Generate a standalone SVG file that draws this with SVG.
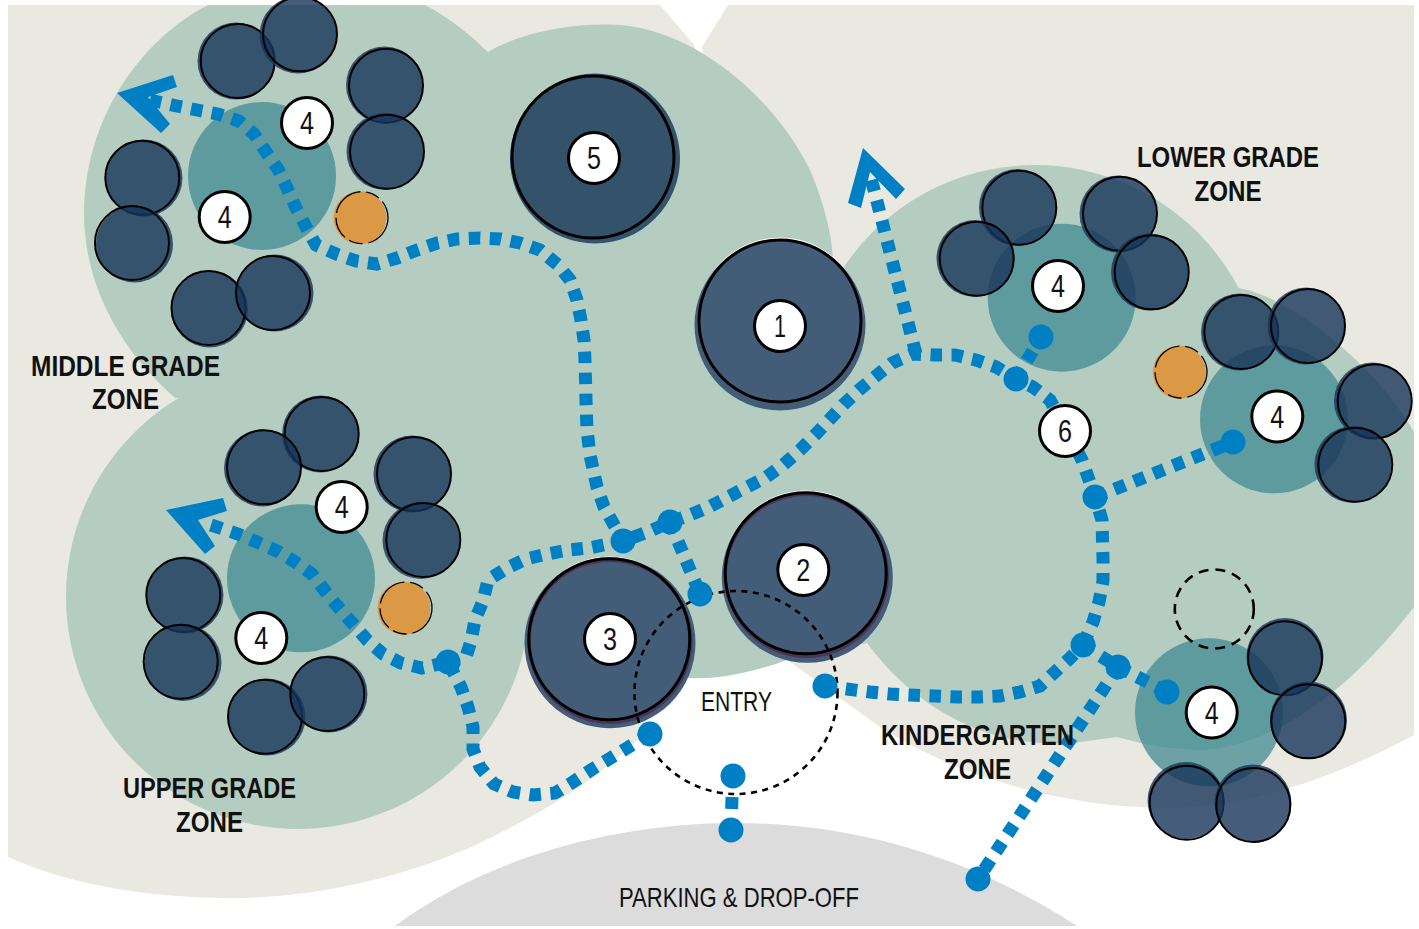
<svg xmlns="http://www.w3.org/2000/svg" width="1419" height="929" viewBox="0 0 1419 929">
<style>
.beige{fill:#e9e9e2}.green{fill:#b5cdc1}.teal{fill:#418991;fill-opacity:.75}
.df{fill:#163459;fill-opacity:.8}.ol{fill:none;stroke:#000;stroke-width:2}
.big{fill:#435d79}.bol{fill:none;stroke:#000;stroke-width:3}.halo{fill:#fff}.purple{fill:none;stroke:#4b3556;stroke-width:3}
.org{fill:#dc9945}.orgd{fill:none;stroke:#000;stroke-width:1.3;stroke-dasharray:34 6 14 5 22 5}
.bub{fill:#fff;stroke:#000;stroke-width:3}
.num{font-family:"Liberation Sans Narrow","Liberation Sans",sans-serif;font-size:31px;fill:#111;text-anchor:middle}
.lab{font-family:"Liberation Sans Narrow","Liberation Sans",sans-serif;font-size:29px;font-weight:bold;fill:#111;text-anchor:middle}
.reg{font-family:"Liberation Sans Narrow","Liberation Sans",sans-serif;font-size:28px;fill:#111;text-anchor:middle}
.walk{fill:none;stroke:#0080c4;stroke-width:13;stroke-dasharray:11.5 9.5}
.dot{fill:#0080c4}.chev{fill:#0080c4}
.dash{fill:none;stroke:#000;stroke-width:2.6;stroke-dasharray:6 5.5}
</style>
<defs><clipPath id="frame"><rect x="8" y="5" width="1406" height="921"/></clipPath></defs>
<g id="ground" clip-path="url(#frame)">
<path class="beige" d="M8 5H660L695 46L660 690L640 738C600 775 560 803 500 833C430 870 330 898 230 898C150 898 70 885 8 857Z"/>
<path class="beige" d="M728 5H1414V735C1340 775 1250 808 1170 808C1090 808 980 790 880 727L790 662L702 47Z"/>
<path fill="#dcdcdc" d="M395 926C490 855 620 823 735 823C860 823 975 860 1077 926Z"/>
<path class="green" d="M84 213C84 120 140 40 208 5H425C450 18 470 35 488 52L420 400L175 398C120 350 84 285 84 213Z"/>
<circle class="green" cx="298" cy="597" r="232"/>
<path class="green" d="M488 52C520 33 570 22 620 25C690 30 770 90 810 170C825 205 833 240 833 262L867 643L787 660C760 670 720 680 690 678L600 680L530 640L300 420L300 200Z"/>
<circle class="green" cx="1035" cy="395" r="230"/>
<path class="green" d="M1238 288C1290 295 1380 370 1414 432V607C1365 670 1295 740 1207 750C1175 750 1145 745 1117 737L1080 742C1000 752 920 715 867 643L840 400Z"/>
</g>
<g id="zone-middle-grade">
<circle class="teal" cx="262" cy="176" r="74"/>
<circle class="df" cx="236" cy="61" r="38.5"/><circle class="ol" cx="237.7" cy="61" r="37"/>
<circle class="df" cx="298" cy="35" r="38.5"/><circle class="ol" cx="300" cy="34.3" r="37"/>
<circle class="df" cx="384.5" cy="85" r="38.5"/><circle class="ol" cx="386" cy="85.7" r="37"/>
<circle class="df" cx="385" cy="151.5" r="38.5"/><circle class="ol" cx="387" cy="151.7" r="37"/>
<circle class="df" cx="144" cy="178" r="38.5"/><circle class="ol" cx="142.3" cy="177.7" r="37"/>
<circle class="df" cx="134.5" cy="244" r="38.5"/><circle class="ol" cx="132" cy="243" r="37"/>
<circle class="df" cx="209.5" cy="309" r="38.5"/><circle class="ol" cx="208.5" cy="308" r="37"/>
<circle class="df" cx="275" cy="293" r="38.5"/><circle class="ol" cx="273" cy="293" r="37"/>
<circle class="org" cx="360" cy="217.7" r="26.5"/><circle class="orgd" cx="362" cy="217.7" r="26"/>
</g>
<g id="zone-upper-grade">
<circle class="teal" cx="301" cy="578.3" r="74"/>
<circle class="df" cx="320.5" cy="434" r="38.5"/><circle class="ol" cx="321.7" cy="434" r="37"/>
<circle class="df" cx="262.5" cy="468" r="38.5"/><circle class="ol" cx="264" cy="467.3" r="37"/>
<circle class="df" cx="412" cy="474" r="38.5"/><circle class="ol" cx="414" cy="474" r="37"/>
<circle class="df" cx="421" cy="540.5" r="38.5"/><circle class="ol" cx="423.3" cy="540" r="37"/>
<circle class="df" cx="185" cy="595" r="38.5"/><circle class="ol" cx="183.3" cy="595" r="37"/>
<circle class="df" cx="183" cy="662.5" r="38.5"/><circle class="ol" cx="180.7" cy="661.7" r="37"/>
<circle class="df" cx="267" cy="717" r="38.5"/><circle class="ol" cx="265" cy="716.7" r="37"/>
<circle class="df" cx="329" cy="694" r="38.5"/><circle class="ol" cx="327.3" cy="694" r="37"/>
<circle class="org" cx="404" cy="608.3" r="26.5"/><circle class="orgd" cx="406" cy="608" r="26"/>
</g>
<g id="zone-lower-grade">
<circle class="teal" cx="1061.7" cy="297.7" r="74"/>
<circle class="df" cx="1017.5" cy="207.5" r="38.5"/><circle class="ol" cx="1019.3" cy="207.7" r="37"/>
<circle class="df" cx="975" cy="258.5" r="38.5"/><circle class="ol" cx="976.7" cy="258.7" r="37"/>
<circle class="df" cx="1118" cy="214" r="38.5"/><circle class="ol" cx="1120" cy="213.7" r="37"/>
<circle class="df" cx="1149.5" cy="272" r="38.5"/><circle class="ol" cx="1151.7" cy="272.3" r="37"/>
<circle class="teal" cx="1274" cy="419.3" r="74"/>
<circle class="df" cx="1239.5" cy="332" r="38.5"/><circle class="ol" cx="1241.3" cy="332" r="37"/>
<circle class="df" cx="1306" cy="326" r="38.5"/><circle class="ol" cx="1308" cy="326" r="37"/>
<circle class="df" cx="1372.5" cy="401" r="38.5"/><circle class="ol" cx="1374.7" cy="401.3" r="37"/>
<circle class="df" cx="1353" cy="464.5" r="38.5"/><circle class="ol" cx="1355.3" cy="464.7" r="37"/>
<circle class="org" cx="1179.3" cy="372.3" r="26.5"/><circle class="orgd" cx="1181" cy="372" r="26"/>
</g>
<g id="zone-kindergarten">
<circle class="teal" cx="1209" cy="712.3" r="74"/>
<circle class="df" cx="1285" cy="656.5" r="38.5"/><circle class="ol" cx="1285" cy="658.3" r="37"/>
<circle class="df" cx="1308.5" cy="720" r="38.5"/><circle class="ol" cx="1308.3" cy="721.3" r="37"/>
<circle class="df" cx="1186" cy="800.5" r="38.5"/><circle class="ol" cx="1186.7" cy="802.7" r="37"/>
<circle class="df" cx="1253" cy="803" r="38.5"/><circle class="ol" cx="1253.3" cy="805" r="37"/>
<circle class="dash" cx="1214.3" cy="609" r="39.5" style="stroke-dasharray:10 7"/>
</g>
<g id="node-5"><circle cx="595" cy="158.5" r="85" fill="#35526b"/><circle class="bol" cx="593" cy="157" r="81"/></g>
<g id="node-1"><circle class="halo" cx="780" cy="320" r="82.5"/><circle class="big" cx="780" cy="325" r="85.5"/><circle class="bol" cx="780" cy="321" r="81"/></g>
<g id="node-2"><circle class="halo" cx="806" cy="573" r="82.5"/><circle class="big" cx="807.3" cy="577.3" r="85.5"/><circle class="purple" cx="806.5" cy="575.5" r="81"/><circle class="bol" cx="805.7" cy="573.3" r="80.5"/></g>
<g id="node-3"><circle class="halo" cx="609.5" cy="639" r="82.5"/><circle class="big" cx="610" cy="642.7" r="85.5"/><circle class="purple" cx="610" cy="641.5" r="81"/><circle class="bol" cx="609.3" cy="639.3" r="80.5"/></g>
<g id="connectors">
<path class="walk" d="M150 100L177 106L197 110L218 114L239 121L254 134L266 152L278 169L287 188L296 208L306 227L316 245L336 254L356 261L377 264L397 258L417 250L437 243L457 239L480 238L500 239L520 243L540 250L558 265L570 280L577 300L581 320L584 340L585 360L586 400L587 430L590 455L597 487L604 507L623 541"/>
<path class="walk" d="M211 525L238 534L257 542L277 551L295 562L312 574L325 591L339 608L353 624L367 640L383 654L401 663L422 668L448 662"/>
<path class="walk" d="M448 662L466 657L471 641L475 620L483 601L488 580L507 568L526 559L547 554L568 550L589 548L623 541L650 531L670 522L690 515L709 507L728 497L747 487L765 478L783 465L800 450L817 433L844 404L859 390L876 376L892 363L913 354L934 355L955 355L976 360L996 367L1016 379L1033 387L1050 400L1082 460L1095 497L1102 520L1103 559L1103 581L1099 602L1093 622L1083 645"/>
<path class="walk" d="M825 686L847 689L870 692L890 694L910 695L935 696L958 697L980 697L1000 696L1020 692L1040 686L1055 672L1068 660L1083 645"/>
<path class="walk" d="M1118 667L978 879"/>
<path class="walk" d="M1083 645L1118 667L1167 692"/>
<path class="walk" d="M1095 497L1233 442"/>
<path class="walk" d="M1016 379L1041 337"/>
<path class="walk" d="M871.5 180L916 354"/>
<path class="walk" d="M670 522L700 594"/>
<path class="walk" d="M650 734L627 748L609 759L591 770L573 782L555 793L533 795L513 792L494 784L480 767L473 749L473 727L468 707L461 687L448 662"/>
<path class="walk" style="stroke-dasharray:0 21 12 30" d="M732.7 776L731 830"/>
<polygon class="chev" points="117,93 173,75 177,87 148,97 170,124 161,133"/>
<polygon class="chev" points="166,510 223,498 227,511 198,520 215,546 205,554"/>
<polygon class="chev" points="863,148 905,189 896,199 870,172 861,208 848,203"/>
<circle class="dash" cx="736" cy="692.5" r="101.5"/>
<circle class="dot" cx="623" cy="541" r="12.5"/><circle class="dot" cx="670" cy="522" r="12.5"/><circle class="dot" cx="700" cy="594" r="12.5"/>
<circle class="dot" cx="1016" cy="379" r="12.5"/><circle class="dot" cx="1041" cy="337" r="12.5"/><circle class="dot" cx="1095" cy="497" r="12.5"/>
<circle class="dot" cx="1233" cy="442" r="12.5"/><circle class="dot" cx="1083" cy="645" r="12.5"/><circle class="dot" cx="1118" cy="667" r="12.5"/>
<circle class="dot" cx="1167" cy="692" r="12.5"/><circle class="dot" cx="825" cy="686" r="12.5"/><circle class="dot" cx="650" cy="734" r="12.5"/>
<circle class="dot" cx="733" cy="776" r="12.5"/><circle class="dot" cx="731" cy="830" r="12.5"/><circle class="dot" cx="978" cy="879" r="12.5"/><circle class="dot" cx="448" cy="662" r="12.5"/>
</g>
<g id="badges">
<g id="badge-5"><circle class="bub" cx="594" cy="158" r="25.5"/><text class="num" x="594" y="169" textLength="14" lengthAdjust="spacingAndGlyphs">5</text></g>
<g id="badge-1"><circle class="bub" cx="780" cy="326" r="25.5"/><text class="num" x="780" y="337" textLength="12" lengthAdjust="spacingAndGlyphs">1</text></g>
<g id="badge-2"><circle class="bub" cx="803.3" cy="570" r="25.5"/><text class="num" x="803.3" y="581" textLength="14" lengthAdjust="spacingAndGlyphs">2</text></g>
<g id="badge-3"><circle class="bub" cx="610" cy="639" r="25.5"/><text class="num" x="610" y="650" textLength="14" lengthAdjust="spacingAndGlyphs">3</text></g>
<g id="badge-6"><circle class="bub" cx="1065" cy="431" r="25.5"/><text class="num" x="1065" y="442" textLength="14" lengthAdjust="spacingAndGlyphs">6</text></g>
<g id="badge-4a"><circle class="bub" cx="307" cy="123" r="25.5"/><text class="num" x="307" y="134" textLength="14" lengthAdjust="spacingAndGlyphs">4</text></g>
<g id="badge-4b"><circle class="bub" cx="224.7" cy="217" r="25.5"/><text class="num" x="224.7" y="228" textLength="14" lengthAdjust="spacingAndGlyphs">4</text></g>
<g id="badge-4c"><circle class="bub" cx="341.7" cy="507" r="25.5"/><text class="num" x="341.7" y="518" textLength="14" lengthAdjust="spacingAndGlyphs">4</text></g>
<g id="badge-4d"><circle class="bub" cx="261.3" cy="638" r="25.5"/><text class="num" x="261.3" y="649" textLength="14" lengthAdjust="spacingAndGlyphs">4</text></g>
<g id="badge-4e"><circle class="bub" cx="1058" cy="286" r="25.5"/><text class="num" x="1058" y="297" textLength="14" lengthAdjust="spacingAndGlyphs">4</text></g>
<g id="badge-4f"><circle class="bub" cx="1277.3" cy="416.5" r="25.5"/><text class="num" x="1277.3" y="427.5" textLength="14" lengthAdjust="spacingAndGlyphs">4</text></g>
<g id="badge-4g"><circle class="bub" cx="1211.7" cy="712.5" r="25.5"/><text class="num" x="1211.7" y="723.5" textLength="14" lengthAdjust="spacingAndGlyphs">4</text></g>
</g>
<g id="labels">
<text class="lab" x="125.5" y="376" textLength="189" lengthAdjust="spacingAndGlyphs">MIDDLE GRADE</text>
<text class="lab" x="125.5" y="409" textLength="67" lengthAdjust="spacingAndGlyphs">ZONE</text>
<text class="lab" x="1228" y="167" textLength="182" lengthAdjust="spacingAndGlyphs">LOWER GRADE</text>
<text class="lab" x="1228" y="201" textLength="67" lengthAdjust="spacingAndGlyphs">ZONE</text>
<text class="lab" x="209.5" y="798" textLength="173" lengthAdjust="spacingAndGlyphs">UPPER GRADE</text>
<text class="lab" x="209.5" y="832" textLength="67" lengthAdjust="spacingAndGlyphs">ZONE</text>
<text class="lab" x="977.5" y="745" textLength="193" lengthAdjust="spacingAndGlyphs">KINDERGARTEN</text>
<text class="lab" x="977.5" y="779" textLength="67" lengthAdjust="spacingAndGlyphs">ZONE</text>
<text class="reg" x="736.5" y="711" textLength="71" lengthAdjust="spacingAndGlyphs">ENTRY</text>
<text class="reg" x="739" y="907" textLength="240" lengthAdjust="spacingAndGlyphs">PARKING &amp; DROP-OFF</text>
</g>
</svg>
